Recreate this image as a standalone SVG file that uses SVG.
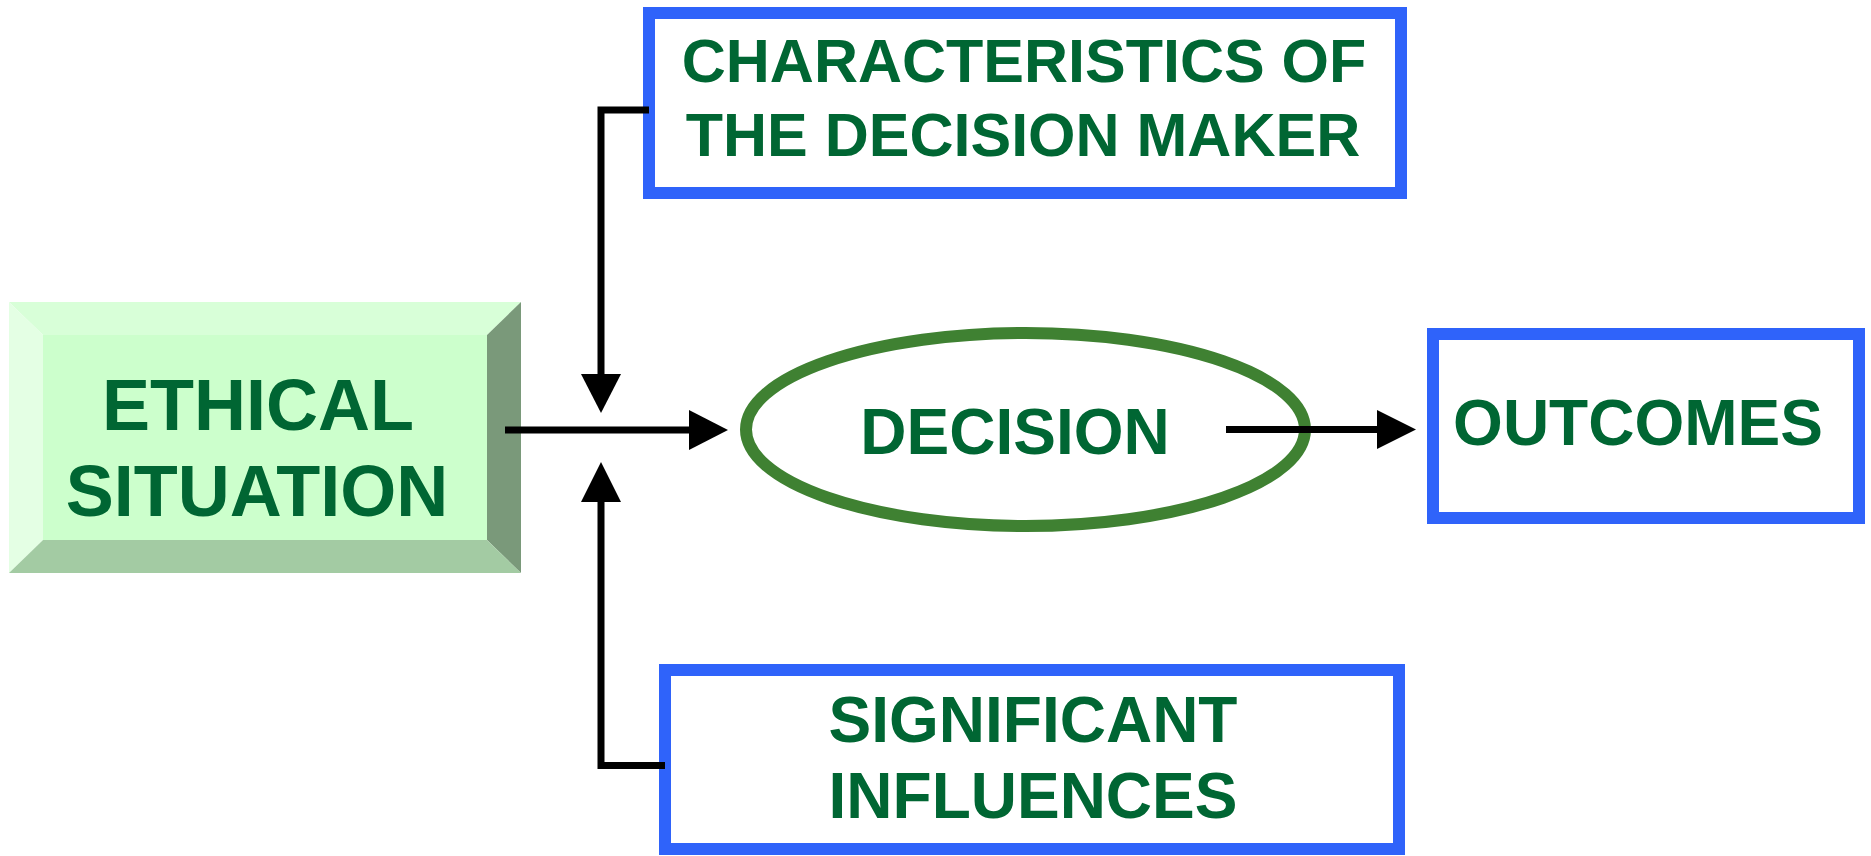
<svg xmlns="http://www.w3.org/2000/svg" width="1871" height="856" viewBox="0 0 1871 856">
<defs>
<style>
.t{font-family:"Liberation Sans",Arial,sans-serif;font-weight:bold;fill:#006633;text-anchor:middle}
.box{fill:#ffffff;stroke:#2f63fa;stroke-width:12}
.ln{fill:none;stroke:#000000;stroke-width:7}
.hd{fill:#000000}
</style>
</defs>
<rect width="1871" height="856" fill="#ffffff"/>
<g id="ethical-situation">
<polygon points="9,302 521,302 487,335 43,335" fill="#d8ffd8"/>
<polygon points="9,302 43,335 43,540 9,573" fill="#e4ffe4"/>
<polygon points="521,302 521,573 487,540 487,335" fill="#7a997a"/>
<polygon points="9,573 43,540 487,540 521,573" fill="#a3cba3"/>
<rect x="43" y="335" width="444" height="205" fill="#ccffcc"/>
<text class="t" x="258" y="430" font-size="72">ETHICAL</text>
<text class="t" x="257" y="516" font-size="72">SITUATION</text>
</g>
<g id="characteristics">
<rect class="box" x="649" y="13" width="752" height="180"/>
<text class="t" x="1024" y="82" font-size="61">CHARACTERISTICS OF</text>
<text class="t" x="1023" y="156" font-size="61">THE DECISION MAKER</text>
</g>
<g id="decision">
<ellipse cx="1025.5" cy="429.5" rx="279.5" ry="96.5" fill="#ffffff" stroke="#3f8132" stroke-width="12"/>
<text class="t" x="1015" y="454" font-size="64">DECISION</text>
</g>
<g id="outcomes">
<rect class="box" x="1433" y="334" width="426" height="184"/>
<text class="t" x="1638" y="445" font-size="64">OUTCOMES</text>
</g>
<g id="significant-influences">
<rect class="box" x="665" y="670" width="734" height="179"/>
<text class="t" x="1033" y="742" font-size="64">SIGNIFICANT</text>
<text class="t" x="1033" y="818" font-size="64">INFLUENCES</text>
</g>
<g id="connectors">
<polyline class="ln" points="649,110 601,110 601,376"/>
<polygon class="hd" points="581,374 621,374 601,413"/>
<polyline class="ln" points="665,765.5 601,765.5 601,500"/>
<polygon class="hd" points="581,502 621,502 601,462"/>
<line class="ln" x1="505" y1="430" x2="691" y2="430"/>
<polygon class="hd" points="689,410 728,430 689,450"/>
<line class="ln" x1="1226" y1="429.5" x2="1379" y2="429.5"/>
<polygon class="hd" points="1377,410 1416,429.5 1377,449"/>
</g>
</svg>
